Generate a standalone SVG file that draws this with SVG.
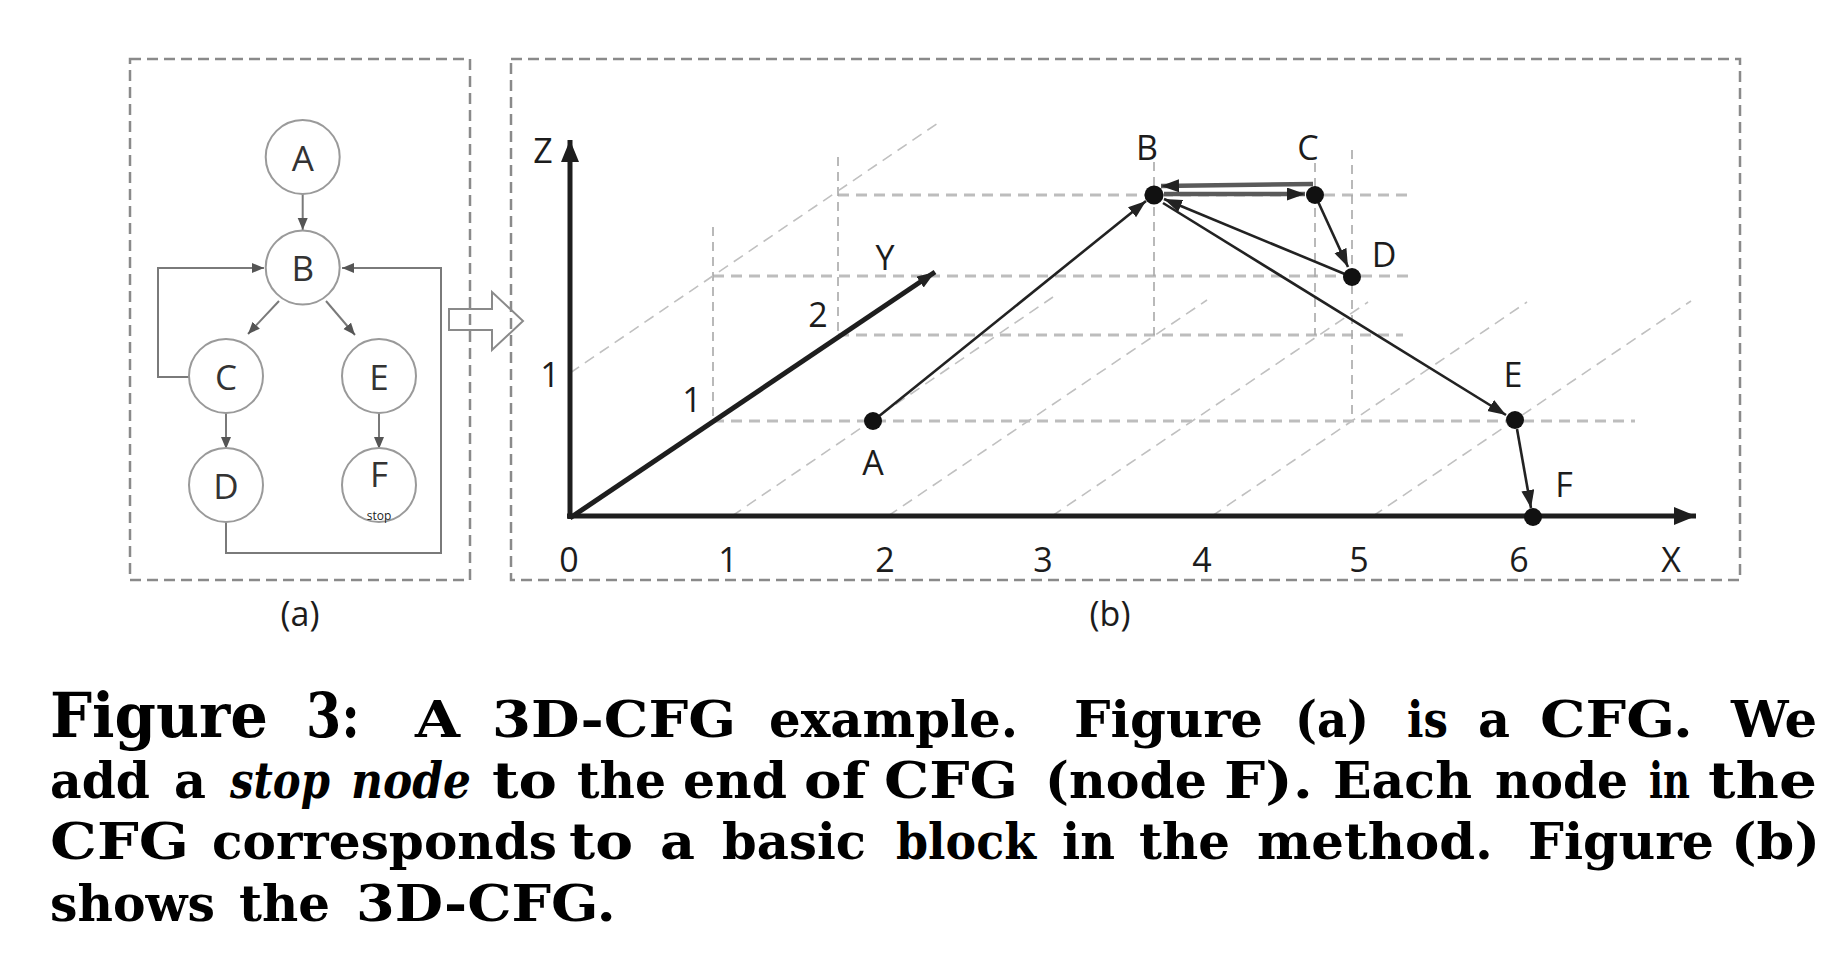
<svg xmlns="http://www.w3.org/2000/svg" width="1848" height="964" viewBox="0 0 1848 964">
<style>
.frame{fill:none;stroke:#8a8a8a;stroke-width:2.5;stroke-dasharray:11 6}
.node circle{fill:#fff;stroke:#9a9a9a;stroke-width:2}
.lbl{font-family:"Open Sans","Noto Sans",sans-serif;fill:#1c1c1c;text-anchor:middle}
.nl{font-size:35px;fill:#333}
.ax{font-size:34px}
.aedge{fill:none;stroke:#7a7a7a;stroke-width:2}
.gh{fill:none;stroke:#bdbdbd;stroke-width:3;stroke-dasharray:11 7}
.gv{fill:none;stroke:#a8a8a8;stroke-width:1.6;stroke-dasharray:9 6}
.gd{fill:none;stroke:#c0c0c0;stroke-width:1.6;stroke-dasharray:11 7}
.axis{fill:none;stroke:#1e1e1e;stroke-width:5}
.edge{fill:none;stroke:#222;stroke-width:2.6}
.dbl{fill:none;stroke:#5a5a5a;stroke-width:4.5}
.pt{fill:#111}
.cap{font-family:"DejaVu Serif",serif;font-weight:bold;font-size:50px;fill:#000}
.big{font-size:61px}
.it{font-style:italic}
</style>
<defs>
<marker id="axArr" markerUnits="userSpaceOnUse" markerWidth="24" markerHeight="20" refX="22" refY="9" orient="auto"><path d="M0,0 L22,9 L0,18 Z" fill="#1e1e1e"/></marker>
<marker id="eArr" markerUnits="userSpaceOnUse" markerWidth="20" markerHeight="14" refX="18" refY="6.5" orient="auto"><path d="M0,0 L18,6.5 L0,13 Z" fill="#222"/></marker>
<marker id="aArr" markerUnits="userSpaceOnUse" markerWidth="14" markerHeight="12" refX="12" refY="5" orient="auto"><path d="M0,0 L12,5 L0,10 Z" fill="#555"/></marker>
</defs>

<!-- frames -->
<rect class="frame" x="130" y="59" width="340" height="521"/>
<rect class="frame" x="511" y="59" width="1229" height="521"/>
<text class="lbl" x="300" y="626" font-size="34">(a)</text>
<text class="lbl" x="1110" y="626" font-size="34">(b)</text>

<!-- hollow transition arrow -->
<path d="M449,309 L492,309 L492,292 L523,321 L492,350 L492,330 L449,330 Z" fill="none" stroke="#8a8a8a" stroke-width="2"/>

<!-- (a) CFG connectors -->
<g id="cfg-edges">
<line class="aedge" x1="302.7" y1="194" x2="302.7" y2="230" marker-end="url(#aArr)"/>
<line class="aedge" x1="279" y1="301" x2="248" y2="334" marker-end="url(#aArr)"/>
<line class="aedge" x1="326" y1="301" x2="355" y2="335" marker-end="url(#aArr)"/>
<line class="aedge" x1="226" y1="413" x2="226" y2="449" marker-end="url(#aArr)"/>
<line class="aedge" x1="379" y1="413" x2="379" y2="449" marker-end="url(#aArr)"/>
<polyline class="aedge" points="189,377 158,377 158,268 264,268" marker-end="url(#aArr)"/>
<polyline class="aedge" points="226,522 226,553 441,553 441,268 342,268" marker-end="url(#aArr)"/>
</g>
<g id="cfg-A" class="node"><circle cx="302.7" cy="157" r="37"/><text class="lbl nl" x="302.7" y="171">A</text></g>
<g id="cfg-B" class="node"><circle cx="302.7" cy="267.5" r="37"/><text class="lbl nl" x="302.7" y="281">B</text></g>
<g id="cfg-C" class="node"><circle cx="226" cy="376" r="37"/><text class="lbl nl" x="226" y="390">C</text></g>
<g id="cfg-E" class="node"><circle cx="379" cy="376" r="37"/><text class="lbl nl" x="379" y="390">E</text></g>
<g id="cfg-D" class="node"><circle cx="226" cy="485" r="37"/><text class="lbl nl" x="226" y="499">D</text></g>
<g id="cfg-F" class="node"><circle cx="379" cy="485" r="37"/><text class="lbl nl" x="379" y="487">F</text><text class="lbl" x="379" y="520" font-size="12" fill="#444">stop</text></g>

<!-- (b) grid -->
<g id="grid">
<line class="gh" x1="838" y1="195" x2="1408" y2="195"/>
<line class="gh" x1="713" y1="276" x2="1415" y2="276"/>
<line class="gh" x1="838" y1="335" x2="1403" y2="335"/>
<line class="gh" x1="713" y1="421" x2="1635" y2="421"/>
<line class="gv" x1="713" y1="227" x2="713" y2="421"/>
<line class="gv" x1="838" y1="157" x2="838" y2="335"/>
<line class="gv" x1="1154" y1="162" x2="1154" y2="335"/>
<line class="gv" x1="1315" y1="163" x2="1315" y2="335"/>
<line class="gv" x1="1352" y1="150" x2="1352" y2="421"/>
<line class="gd" x1="570" y1="373" x2="938" y2="123"/>
<line class="gd" x1="732" y1="516" x2="1053" y2="297"/>
<line class="gd" x1="888" y1="516" x2="1207" y2="300"/>
<line class="gd" x1="1052" y1="516" x2="1368" y2="302"/>
<line class="gd" x1="1212" y1="516" x2="1527" y2="302"/>
<line class="gd" x1="1373" y1="516" x2="1691" y2="301"/>
</g>

<!-- axes -->
<g id="axes">
<line class="axis" x1="570" y1="519" x2="570" y2="140" marker-end="url(#axArr)"/>
<line class="axis" x1="567" y1="516" x2="1696" y2="516" marker-end="url(#axArr)"/>
<line class="axis" x1="570" y1="518" x2="935" y2="272" stroke-width="3.6" marker-end="url(#eArr)"/>
<text class="lbl ax" x="543" y="163">Z</text>
<text class="lbl ax" x="550" y="387">1</text>
<text class="lbl ax" x="692" y="412">1</text>
<text class="lbl ax" x="818" y="327">2</text>
<text class="lbl ax" x="885" y="270">Y</text>
<text class="lbl ax" x="569" y="572">0</text>
<text class="lbl ax" x="728" y="572">1</text>
<text class="lbl ax" x="885" y="572">2</text>
<text class="lbl ax" x="1043" y="572">3</text>
<text class="lbl ax" x="1202" y="572">4</text>
<text class="lbl ax" x="1359" y="572">5</text>
<text class="lbl ax" x="1519" y="572">6</text>
<text class="lbl ax" x="1671" y="572">X</text>
</g>

<!-- (b) connectors -->
<g id="edges3d">
<line class="edge" x1="873" y1="421" x2="1146" y2="201" marker-end="url(#eArr)"/>
<line class="dbl" x1="1164" y1="194" x2="1305" y2="194" marker-end="url(#eArr)"/>
<line class="dbl" x1="1313" y1="184" x2="1161" y2="186" marker-end="url(#eArr)"/>
<line class="edge" x1="1315" y1="195" x2="1348" y2="267" marker-end="url(#eArr)"/>
<line class="edge" x1="1352" y1="277" x2="1164" y2="199" marker-end="url(#eArr)"/>
<line class="edge" x1="1163" y1="203" x2="1506" y2="415" marker-end="url(#eArr)"/>
<line class="edge" x1="1517" y1="429" x2="1531" y2="508" marker-end="url(#eArr)"/>
</g>

<!-- (b) nodes -->
<g id="pA"><circle class="pt" cx="873" cy="421" r="9"/><text class="lbl ax" x="873" y="475">A</text></g>
<g id="pB"><circle class="pt" cx="1154" cy="195" r="9.5"/><text class="lbl ax" x="1147" y="160">B</text></g>
<g id="pC"><circle class="pt" cx="1315" cy="195" r="9"/><text class="lbl ax" x="1308" y="160">C</text></g>
<g id="pD"><circle class="pt" cx="1352" cy="277" r="9"/><text class="lbl ax" x="1384" y="267">D</text></g>
<g id="pE"><circle class="pt" cx="1515" cy="420" r="9"/><text class="lbl ax" x="1513" y="387">E</text></g>
<g id="pF"><circle class="pt" cx="1533" cy="517" r="9"/><text class="lbl ax" x="1564" y="497">F</text></g>

<!-- caption -->
<g id="caption" class="cap">
<text class="big" x="50" y="737" textLength="218" lengthAdjust="spacingAndGlyphs">Figure</text>
<text class="big" x="306" y="737" textLength="54" lengthAdjust="spacingAndGlyphs">3:</text>
<text x="415" y="737" textLength="45" lengthAdjust="spacingAndGlyphs">A</text>
<text x="492" y="737" textLength="244" lengthAdjust="spacingAndGlyphs">3D-CFG</text>
<text x="769" y="737" textLength="249" lengthAdjust="spacingAndGlyphs">example.</text>
<text x="1074" y="737" textLength="189" lengthAdjust="spacingAndGlyphs">Figure</text>
<text x="1295" y="737" textLength="74" lengthAdjust="spacingAndGlyphs">(a)</text>
<text x="1407" y="737" textLength="41" lengthAdjust="spacingAndGlyphs">is</text>
<text x="1478" y="737" textLength="32" lengthAdjust="spacingAndGlyphs">a</text>
<text x="1540" y="737" textLength="153" lengthAdjust="spacingAndGlyphs">CFG.</text>
<text x="1731" y="737" textLength="86" lengthAdjust="spacingAndGlyphs">We</text>

<text x="50" y="798" textLength="100" lengthAdjust="spacingAndGlyphs">add</text>
<text x="174" y="798" textLength="32" lengthAdjust="spacingAndGlyphs">a</text>
<text class="it" x="230" y="798" textLength="100" lengthAdjust="spacingAndGlyphs">stop</text>
<text class="it" x="351" y="798" textLength="120" lengthAdjust="spacingAndGlyphs">node</text>
<text x="492" y="798" textLength="65" lengthAdjust="spacingAndGlyphs">to</text>
<text x="577" y="798" textLength="89" lengthAdjust="spacingAndGlyphs">the</text>
<text x="683" y="798" textLength="104" lengthAdjust="spacingAndGlyphs">end</text>
<text x="804" y="798" textLength="62" lengthAdjust="spacingAndGlyphs">of</text>
<text x="884" y="798" textLength="134" lengthAdjust="spacingAndGlyphs">CFG</text>
<text x="1045" y="798" textLength="162" lengthAdjust="spacingAndGlyphs">(node</text>
<text x="1224" y="798" textLength="89" lengthAdjust="spacingAndGlyphs">F).</text>
<text x="1333" y="798" textLength="139" lengthAdjust="spacingAndGlyphs">Each</text>
<text x="1495" y="798" textLength="133" lengthAdjust="spacingAndGlyphs">node</text>
<text x="1649" y="798" textLength="41" lengthAdjust="spacingAndGlyphs">in</text>
<text x="1708" y="798" textLength="109" lengthAdjust="spacingAndGlyphs">the</text>

<text x="50" y="859" textLength="139" lengthAdjust="spacingAndGlyphs">CFG</text>
<text x="212" y="859" textLength="345" lengthAdjust="spacingAndGlyphs">corresponds</text>
<text x="569" y="859" textLength="64" lengthAdjust="spacingAndGlyphs">to</text>
<text x="660" y="859" textLength="35" lengthAdjust="spacingAndGlyphs">a</text>
<text x="722" y="859" textLength="144" lengthAdjust="spacingAndGlyphs">basic</text>
<text x="896" y="859" textLength="140" lengthAdjust="spacingAndGlyphs">block</text>
<text x="1062" y="859" textLength="53" lengthAdjust="spacingAndGlyphs">in</text>
<text x="1139" y="859" textLength="91" lengthAdjust="spacingAndGlyphs">the</text>
<text x="1257" y="859" textLength="236" lengthAdjust="spacingAndGlyphs">method.</text>
<text x="1528" y="859" textLength="186" lengthAdjust="spacingAndGlyphs">Figure</text>
<text x="1731" y="859" textLength="89" lengthAdjust="spacingAndGlyphs">(b)</text>

<text x="50" y="921" textLength="165" lengthAdjust="spacingAndGlyphs">shows</text>
<text x="239" y="921" textLength="91" lengthAdjust="spacingAndGlyphs">the</text>
<text x="356" y="921" textLength="260" lengthAdjust="spacingAndGlyphs">3D-CFG.</text>
</g>
</svg>
